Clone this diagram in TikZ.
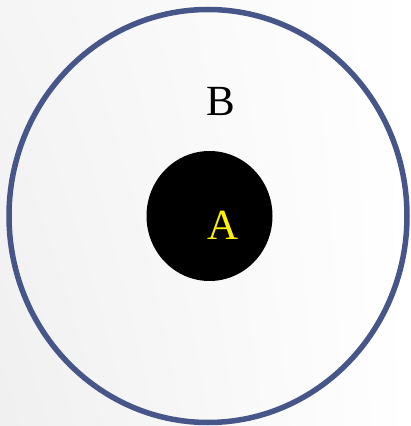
\documentclass[tikz,border=0pt]{standalone}
\usepackage{fontspec}
\setmainfont{Liberation Serif}
\usetikzlibrary{shadings}
\definecolor{RingClr}{RGB}{70,86,136}
\definecolor{LetterClr}{RGB}{255,240,0}

\begin{document}
\begin{tikzpicture}[x=1pt,y=1pt]
\tikzset{letter/.style={inner sep=0pt,anchor=base,font=\fontsize{43}{43}\selectfont}}

% background
\shade[upper left=black!4,lower left=black!6,upper right=white,lower right=white]
  (0,0) rectangle (410,426);
\useasboundingbox (0,0) rectangle (410,426);

\draw[line width=5.5pt,color=RingClr] (208,210) ellipse [x radius=199,y radius=206.5];
\fill[black] (209.5,210) ellipse [x radius=63,y radius=65];

\node[letter] (B) at (221,310) {B};
\node[letter,text=LetterClr] (A) at (223,186) {A};

\end{tikzpicture}
\end{document}
